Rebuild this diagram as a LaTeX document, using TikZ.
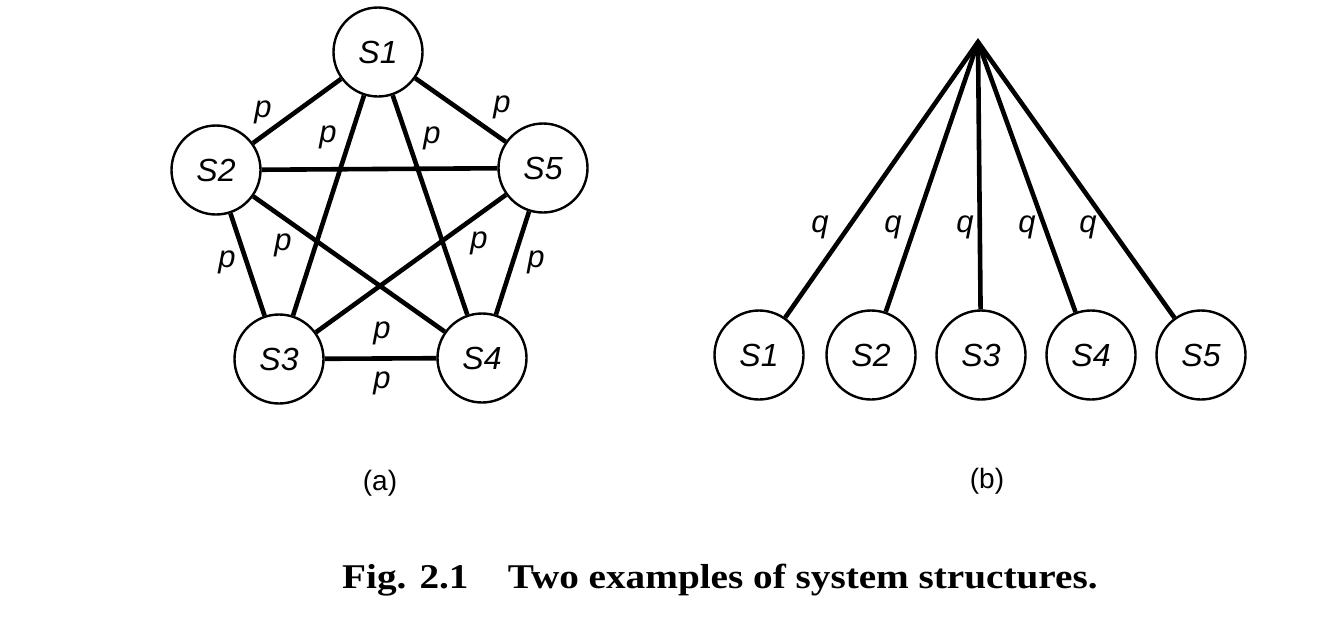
\documentclass[tikz,border=0pt]{standalone}
\usepackage{fontspec}
\usepackage{graphicx}
\setmainfont{Liberation Sans}
\newfontfamily\capfont{Liberation Serif}
\begin{document}
\begin{tikzpicture}[x=1pt,y=-1pt,
  sys/.style={circle,draw,line width=2.4pt,minimum size=89pt,inner sep=0pt,
    font=\fontsize{32}{38}\selectfont\itshape},
  link/.style={line width=4.6pt},
  lab/.style={inner sep=0pt,font=\fontsize{31}{37}\selectfont\itshape},
  sub/.style={inner sep=0pt,font=\fontsize{28}{34}\selectfont}]
\useasboundingbox (0,0) rectangle (1340,635);
\fill[white] (0,0) rectangle (1340,635);
% ---------- (a) ----------
\node[sys] (a1) at (378,52) {S1};
\node[sys] (a2) at (216,170) {S2};
\node[sys] (a5) at (543,168) {S5};
\node[sys] (a3) at (279,359) {S3};
\node[sys] (a4) at (482,358) {S4};
\draw[link] (a1) -- (a2);
\draw[link] (a1) -- (a3);
\draw[link] (a1) -- (a4);
\draw[link] (a1) -- (a5);
\draw[link] (a2) -- (a3);
\draw[link] (a2) -- (a4);
\draw[link] (a2) -- (a5);
\draw[link] (a3) -- (a4);
\draw[link] (a3) -- (a5);
\draw[link] (a4) -- (a5);
\node[lab] (p12) at (263,112) {p};
\node[lab] (p13) at (328,137) {p};
\node[lab] (p14) at (432,138) {p};
\node[lab] (p15) at (502,107) {p};
\node[lab] (p23) at (227,262) {p};
\node[lab] (p24) at (283,245) {p};
\node[lab] (p35) at (479,243) {p};
\node[lab] (p45) at (536,262) {p};
\node[lab] (p34a) at (382,333) {p};
\node[lab] (p34b) at (382,383) {p};
\node[sub] (suba) at (380,483) {(a)};
% ---------- (b) ----------
\coordinate (apex) at (978,42);
\node[sys] (b1) at (759,355) {S1};
\node[sys] (b2) at (871,355) {S2};
\node[sys] (b3) at (981,355) {S3};
\node[sys] (b4) at (1091,355) {S4};
\node[sys] (b5) at (1201,355) {S5};
\draw[link,line join=miter] (b1) -- (apex) -- (b5);
\draw[link] (apex) -- (b2);
\draw[link] (apex) -- (b3);
\draw[link] (apex) -- (b4);
\node[lab] (q1) at (820,227) {q};
\node[lab] (q2) at (893,227) {q};
\node[lab] (q3) at (965,227) {q};
\node[lab] (q4) at (1027,227) {q};
\node[lab] (q5) at (1088,227) {q};
\node[sub] (subb) at (987,481) {(b)};
% ---------- caption ----------
\node[anchor=base west,inner sep=0pt] (cap) at (342,588)
  {\scalebox{1.13}[1]{\capfont\bfseries\fontsize{34.7}{40}\selectfont Fig. 2.1\hspace{1em}Two examples of system structures.}};
\end{tikzpicture}
\end{document}
